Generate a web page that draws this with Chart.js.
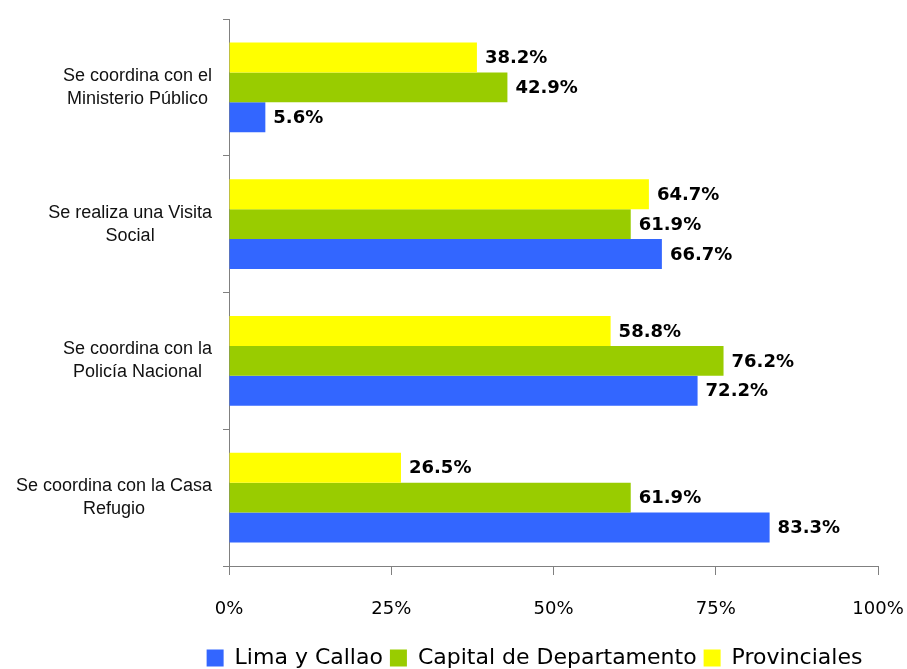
<!DOCTYPE html>
<html>
<head>
<meta charset="utf-8">
<script src="https://cdn.jsdelivr.net/npm/chart.js@4/dist/chart.umd.min.js"></script>
<style>
  html, body { margin: 0; padding: 0; background: #fff; }
  #wrap { width: 907px; height: 669px; position: relative; }
</style>
</head>
<body>
<div id="wrap"><canvas id="c" width="907" height="669"></canvas></div>
<script>
// Categories (each entry is one label, split into lines)
const categories = [
  ['Se coordina con el', 'Ministerio Público'],
  ['Se realiza una Visita', 'Social'],
  ['Se coordina con la', 'Policía Nacional'],
  ['Se coordina con la Casa', 'Refugio']
];

// Percentages per group
const limaCallao   = [5.6, 66.7, 72.2, 83.3];
const capitalDepto = [42.9, 61.9, 76.2, 61.9];
const provinciales = [38.2, 64.7, 58.8, 26.5];

const seriesNames = ['Lima y Callao', 'Capital de Departamento', 'Provinciales'];
const xTicks = [0, 25, 50, 75, 100];

const AXIS_GRAY = '#808080';

// Value labels to the right of each bar
const valueLabels = {
  id: 'valueLabels',
  afterDatasetsDraw(chart) {
    const ctx = chart.ctx;
    ctx.save();
    ctx.font = 'bold 18px "DejaVu Sans"';
    ctx.fillStyle = '#000';
    ctx.textAlign = 'left';
    ctx.textBaseline = 'middle';
    chart.data.datasets.forEach((ds, di) => {
      const meta = chart.getDatasetMeta(di);
      meta.data.forEach((bar, i) => {
        ctx.fillText(ds.data[i].toFixed(1) + '%', bar.x + 8, bar.y + 1);
      });
    });
    ctx.restore();
  }
};

// Multi-line category labels, each block right-aligned to the axis with lines centred
const categoryLabels = {
  id: 'categoryLabels',
  afterDraw(chart) {
    const ctx = chart.ctx;
    const y = chart.scales.y;
    const right = chart.chartArea.left - 17;
    const lineH = 23;
    ctx.save();
    ctx.font = '18px "Liberation Sans"';
    ctx.fillStyle = '#111';
    ctx.textAlign = 'center';
    ctx.textBaseline = 'middle';
    categories.forEach((lines, i) => {
      const w = Math.max(...lines.map(l => ctx.measureText(l).width));
      const cx = right - w / 2;
      const cy = y.getPixelForValue(i);
      const top = cy - (lines.length - 1) * lineH / 2;
      lines.forEach((l, k) => ctx.fillText(l, cx, top + k * lineH));
    });
    ctx.restore();
  }
};

// Legend row sits a little right of the canvas centre, under the plot
const legendShift = {
  id: 'legendShift',
  afterLayout(chart) {
    const lg = chart.legend;
    if (lg) { lg.left += 81; lg.right += 81; }
  }
};

new Chart(document.getElementById('c'), {
  type: 'bar',
  data: {
    labels: categories,
    datasets: [
      { label: seriesNames[2], data: provinciales, backgroundColor: '#FFFF00' },
      { label: seriesNames[1], data: capitalDepto, backgroundColor: '#99CC00' },
      { label: seriesNames[0], data: limaCallao,   backgroundColor: '#3366FF' }
    ]
  },
  options: {
    indexAxis: 'y',
    responsive: false,
    animation: false,
    devicePixelRatio: 1,
    layout: { padding: { left: 0, right: 0, top: 19, bottom: -10 } },
    datasets: { bar: { categoryPercentage: 0.657, barPercentage: 1.0, borderWidth: 0 } },
    scales: {
      x: {
        min: 0, max: 100,
        afterBuildTicks(scale) { scale.ticks = xTicks.map(v => ({ value: v })); },
        afterFit(scale) {
          scale.height = 74;
          scale.paddingRight = 29;
          scale.paddingLeft = 0;
        },
        ticks: {
          callback: v => v + '%',
          font: { family: '"DejaVu Sans"', size: 18 },
          color: '#000',
          padding: 24,
          maxRotation: 0
        },
        grid: { drawOnChartArea: false, drawTicks: true, tickLength: 9, color: AXIS_GRAY, lineWidth: 1 },
        border: { display: true, color: AXIS_GRAY, width: 1 }
      },
      y: {
        offset: true,
        afterFit(scale) { scale.width = 229; },
        ticks: { display: false },
        grid: { offset: true, drawOnChartArea: false, drawTicks: true, tickLength: 6, color: AXIS_GRAY, lineWidth: 1 },
        border: { display: true, color: AXIS_GRAY, width: 1 }
      }
    },
    plugins: {
      legend: {
        position: 'bottom',
        reverse: true,
        labels: {
          boxWidth: 17,
          boxHeight: 17,
          padding: 7,
          color: '#000',
          font: { family: '"DejaVu Sans"', size: 22 }
        }
      },
      tooltip: { enabled: false }
    }
  },
  plugins: [valueLabels, categoryLabels, legendShift]
});
</script>
</body>
</html>
